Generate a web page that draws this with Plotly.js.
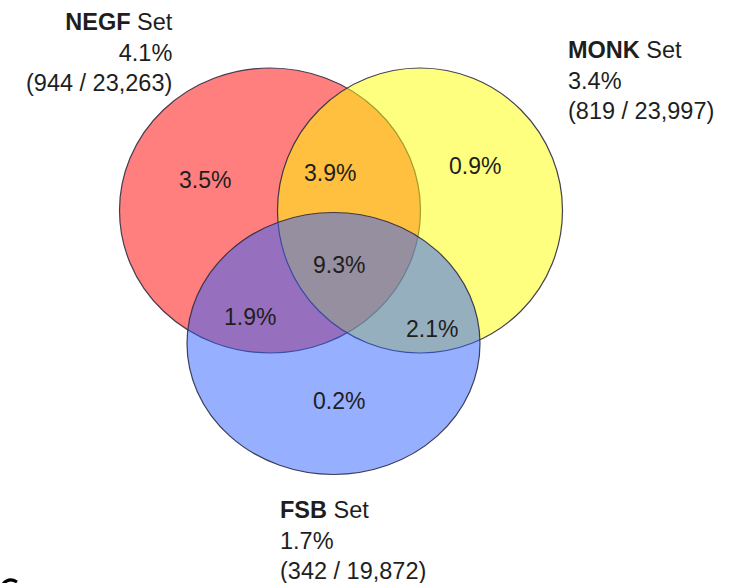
<!DOCTYPE html>
<html>
<head>
<meta charset="utf-8">
<script src="https://cdn.plot.ly/plotly-3.0.1.min.js"></script>
<style>html,body{margin:0;padding:0;background:#fff;}#chart{width:738px;height:583px;}</style>
</head>
<body>
<div id="chart"></div>
<script>
// ---- data ----
const setNames = ['NEGF', 'MONK', 'FSB'];
const setPercents = ['4.1%', '3.4%', '1.7%'];
const setHits = [944, 819, 342];
const setTotals = [23263, 23997, 19872];
const regionNames = ['NEGF only', 'MONK only', 'FSB only', 'NEGF & MONK', 'NEGF & FSB', 'MONK & FSB', 'All three'];
const regionPercents = [3.5, 0.9, 0.2, 3.9, 1.9, 2.1, 9.3];

// ---- layout geometry (plot units = pixels of the canvas) ----
const circleGeom = [
  {cx: 270, cy: 210.5, rx: 150.5, ry: 142.5},
  {cx: 420, cy: 210.5, rx: 142.5, ry: 142.5},
  {cx: 333.5, cy: 343.5, rx: 146.5, ry: 131}
];
const circleFill = ['rgba(255,0,0,0.5)', 'rgba(255,255,0,0.5)', 'rgba(45,95,255,0.5)'];
const regionPos = [
  {x: 205, y: 180}, {x: 475, y: 166}, {x: 339, y: 401},
  {x: 330, y: 173}, {x: 250, y: 317}, {x: 432, y: 329}, {x: 339, y: 265}
];
const setLabelPos = [
  {x: 175, y: 52, xanchor: 'right', align: 'right'},
  {x: 566, y: 80, xanchor: 'left', align: 'left'},
  {x: 278, y: 540, xanchor: 'left', align: 'left'}
];

const FONT = 'Liberation Sans, Arial, Helvetica, sans-serif';
const TXT = '#1e1e1e';

const shapes = circleGeom.map((g, i) => ({
  type: 'circle', xref: 'x', yref: 'y',
  x0: g.cx - g.rx, x1: g.cx + g.rx, y0: g.cy - g.ry, y1: g.cy + g.ry,
  fillcolor: circleFill[i],
  line: {color: 'rgba(45,45,70,0.9)', width: 1.2},
  layer: 'above'
}));
// fragment of a cropped panel mark at the bottom-left edge
shapes.push({
  type: 'path', xref: 'x', yref: 'y',
  path: 'M 3 584 Q 9 577 17 582',
  line: {color: '#000', width: 3}, layer: 'above'
});

const annotations = [];
regionPercents.forEach((v, i) => {
  annotations.push({
    x: regionPos[i].x, y: regionPos[i].y, xref: 'x', yref: 'y',
    text: v.toFixed(1) + '%', showarrow: false,
    xanchor: 'center', yanchor: 'middle',
    font: {family: FONT, size: 23, color: TXT}
  });
});
setNames.forEach((n, i) => {
  const p = setLabelPos[i];
  annotations.push({
    x: p.x, y: p.y, xref: 'x', yref: 'y',
    text: '<b>' + n + '</b> Set<br>' + setPercents[i] + '<br>(' +
      setHits[i].toLocaleString('en-US') + ' / ' + setTotals[i].toLocaleString('en-US') + ')',
    showarrow: false, xanchor: p.xanchor, yanchor: 'middle', align: p.align,
    font: {family: FONT, size: 23.5, color: TXT}
  });
});

const layout = {
  width: 738, height: 583,
  margin: {l: 0, r: 0, t: 0, b: 0},
  paper_bgcolor: '#ffffff', plot_bgcolor: '#ffffff',
  xaxis: {range: [0, 738], visible: false, fixedrange: true},
  yaxis: {range: [583, 0], visible: false, fixedrange: true},
  showlegend: false,
  shapes: shapes,
  annotations: annotations
};

Plotly.newPlot('chart', [{x: [], y: [], type: 'scatter', mode: 'markers', hoverinfo: 'skip'}], layout, {staticPlot: true, displayModeBar: false});
</script>
</body>
</html>
